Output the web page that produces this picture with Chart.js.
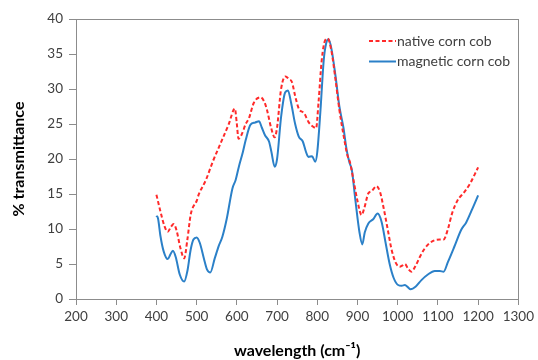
<!DOCTYPE html>
<html>
<head>
<meta charset="utf-8">
<script src="https://cdn.jsdelivr.net/npm/chart.js@4.4.1/dist/chart.umd.min.js"></script>
<style>
html,body{margin:0;padding:0;background:#fff;}
canvas{display:block;}
</style>
</head>
<body>
<canvas id="c" width="538" height="360"></canvas>
<script>
// ---- data ----
const seriesNames = ["native corn cob", "magnetic corn cob"];
const xTicks = [200,300,400,500,600,700,800,900,1000,1100,1200,1300];
const yTicks = [0,5,10,15,20,25,30,35,40];

const nativeWavelength = [400,410,420,428,436,443,450,460,469,477,485,490,500,505,523,540,560,580,595,600,604,612,622,630,642,659,668,675,685,694,700,710,721,730,737,745,754,768,778,790,797,803,811,820,826,835,845,855,865,875,881,890,900,910,917,927,935,947,956,965,975,985,995,1005,1012,1018,1026,1034,1045,1055,1067,1080,1092,1105,1114,1125,1135,1149,1166,1180,1200];
const nativeT = [14.9,12.5,10.4,9.6,10.3,10.7,9.8,7.2,5.8,8.5,12.0,13.0,14.0,14.9,17.0,19.6,22.3,25.0,27.2,25.0,22.9,23.5,25.0,25.8,28.0,28.8,28.2,27.0,24.5,23.1,24.5,30.0,31.8,31.4,31.0,29.0,27.2,26.5,25.3,24.6,24.4,28.0,34.1,37.0,37.2,35.5,31.5,27.0,23.5,20.5,19.6,17.0,14.0,12.0,13.0,15.1,15.4,16.1,15.3,13.0,10.0,7.0,5.2,4.6,4.8,5.0,4.3,3.9,4.8,6.0,7.2,8.0,8.4,8.5,8.5,10.0,12.2,14.1,15.3,16.5,18.8];

const magneticWavelength = [400,404,410,418,428,435,441,448,458,469,477,485,492,500,508,518,526,534,545,555,564,575,589,597,605,615,622,634,645,655,662,670,680,686,694,700,710,720,727,735,745,754,764,772,778,787,795,800,808,816,822,828,835,845,855,865,873,880,886,895,905,912,918,927,939,950,960,970,980,990,1001,1010,1018,1025,1032,1045,1059,1075,1092,1105,1114,1125,1141,1158,1170,1185,1200];
const magneticT = [11.9,11.5,9.0,6.8,5.7,6.4,6.9,6.0,3.5,2.5,4.0,7.0,8.5,8.8,8.0,5.8,4.2,3.8,5.8,7.6,8.9,11.5,15.8,17.0,18.9,21.0,22.7,24.9,25.2,25.4,24.5,23.4,22.5,21.0,18.9,20.0,26.0,29.5,29.8,28.0,25.0,23.2,22.5,21.0,20.3,20.4,19.6,21.0,27.0,34.1,36.5,37.1,35.8,32.0,27.5,24.5,21.3,19.5,18.4,14.0,9.5,7.8,9.5,10.8,11.4,12.2,11.0,8.0,5.0,3.0,2.0,1.9,2.0,1.7,1.4,1.8,2.7,3.5,4.0,4.0,3.9,5.3,7.5,9.9,10.9,12.8,14.8];

const toPoints = (xs, ys) => xs.map((x, i) => ({x: x, y: ys[i]}));

const FONT = "Lato, 'Open Sans', sans-serif";
const AXIS_COLOR = '#8c8c8c';
const TEXT_COLOR = '#404040';

// Draw the plot-area frame
const frame = {
  id: 'frame',
  afterDatasetsDraw(chart) {
    const a = chart.chartArea, c = chart.ctx;
    c.save();
    c.strokeStyle = AXIS_COLOR;
    c.lineWidth = 1;
    c.strokeRect(Math.round(a.left) + 0.5, Math.round(a.top) + 0.5, Math.round(a.right - a.left), Math.round(a.bottom - a.top));
    c.restore();
  }
};

// Legend drawn inside the plot area, upper right, stacked vertically
const insideLegend = {
  id: 'insideLegend',
  afterDraw(chart) {
    const c = chart.ctx;
    const x0 = 369, lineLen = 27, y0 = 41, rowH = 20.5;
    c.save();
    c.font = "14px " + FONT;
    c.textBaseline = 'middle';
    c.textAlign = 'left';
    chart.data.datasets.forEach((ds, i) => {
      const y = y0 + i * rowH;
      c.strokeStyle = ds.borderColor;
      c.lineWidth = ds.borderWidth;
      c.setLineDash(ds.borderDash || []);
      c.beginPath();
      c.moveTo(x0, y);
      c.lineTo(x0 + lineLen, y);
      c.stroke();
      c.setLineDash([]);
      c.fillStyle = TEXT_COLOR;
      c.fillText(ds.label, x0 + lineLen + 1, y);
    });
    c.restore();
  }
};

new Chart(document.getElementById('c'), {
  type: 'line',
  data: {
    datasets: [
      {
        label: seriesNames[0],
        data: toPoints(nativeWavelength, nativeT),
        borderColor: '#ff2a2a',
        borderWidth: 2,
        borderDash: [4, 2.5],
        pointRadius: 0,
        cubicInterpolationMode: 'monotone',
        fill: false
      },
      {
        label: seriesNames[1],
        data: toPoints(magneticWavelength, magneticT),
        borderColor: '#2b80c8',
        borderWidth: 2,
        pointRadius: 0,
        cubicInterpolationMode: 'monotone',
        fill: false
      }
    ]
  },
  options: {
    responsive: false,
    animation: false,
    events: [],
    layout: { padding: { top: 19, right: 17, left: 0, bottom: 0 } },
    plugins: {
      legend: { display: false },
      tooltip: { enabled: false }
    },
    scales: {
      x: {
        type: 'linear',
        min: 200, max: 1300,
        afterBuildTicks: (s) => { s.ticks = xTicks.map(v => ({value: v})); },
        afterFit: (s) => { s.height = 61; },
        grid: { display: true, drawOnChartArea: false, drawTicks: true, tickLength: 6, color: AXIS_COLOR },
        border: { display: true, color: AXIS_COLOR },
        ticks: { color: TEXT_COLOR, font: { family: FONT, size: 13.5 }, padding: 4, maxRotation: 0, autoSkip: false, callback: (v) => String(v) },
        title: { display: true, text: 'wavelength (cm\u207B\u00B9)', color: '#000', font: { family: FONT, size: 16, weight: 'bold' }, padding: { top: 0, bottom: 0 } }
      },
      y: {
        min: 0, max: 40,
        afterBuildTicks: (s) => { s.ticks = yTicks.map(v => ({value: v})); },
        afterFit: (s) => { s.width = 76; },
        grid: { display: true, drawOnChartArea: false, drawTicks: true, tickLength: 7, color: AXIS_COLOR },
        border: { display: true, color: AXIS_COLOR },
        ticks: { color: TEXT_COLOR, font: { family: FONT, size: 13.5 }, padding: 6, callback: (v) => String(v) },
        title: { display: true, text: '% transmittance', color: '#000', font: { family: FONT, size: 16, weight: 'bold' }, padding: { top: 9, bottom: 0 } }
      }
    }
  },
  plugins: [frame, insideLegend]
});
</script>
</body>
</html>
